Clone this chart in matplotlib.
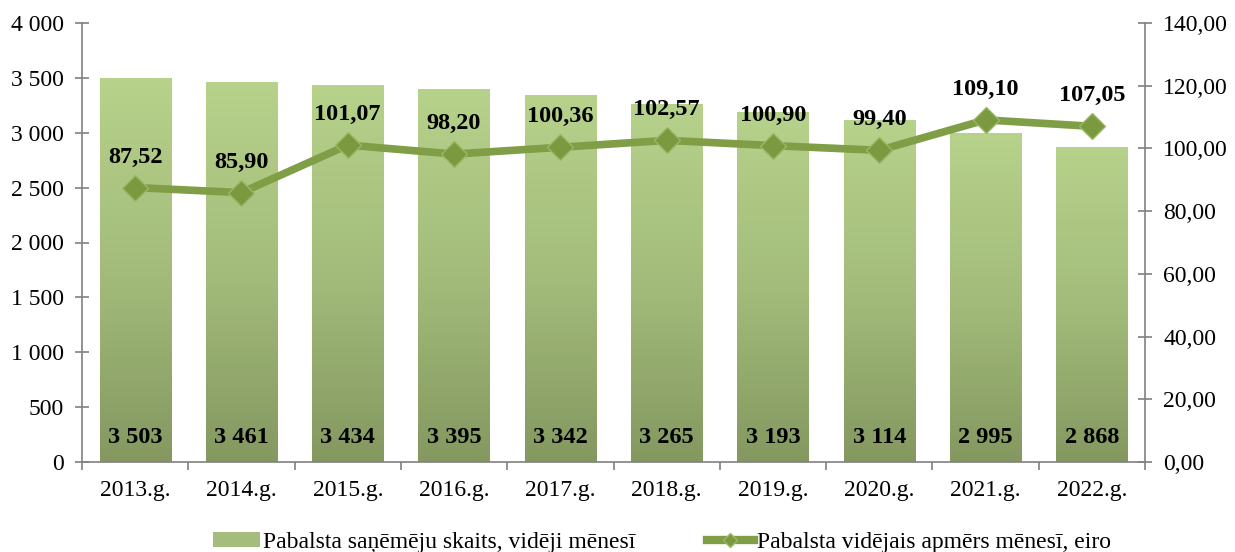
import matplotlib
matplotlib.use("Agg")
import matplotlib.pyplot as plt
import numpy as np
from matplotlib.patches import Patch
from matplotlib.lines import Line2D
from matplotlib.colors import LinearSegmentedColormap

years = ["2013.g.", "2014.g.", "2015.g.", "2016.g.", "2017.g.",
         "2018.g.", "2019.g.", "2020.g.", "2021.g.", "2022.g."]
recipients = [3503, 3461, 3434, 3395, 3342, 3265, 3193, 3114, 2995, 2868]
avg_amount = [87.52, 85.90, 101.07, 98.20, 100.36, 102.57, 100.90, 99.40, 109.10, 107.05]
recip_labels = ["3 503", "3 461", "3 434", "3 395", "3 342", "3 265", "3 193", "3 114", "2 995", "2 868"]
amount_labels = ["87,52", "85,90", "101,07", "98,20", "100,36", "102,57", "100,90", "99,40", "109,10", "107,05"]
left_ticks = [0, 500, 1000, 1500, 2000, 2500, 3000, 3500, 4000]
right_ticks = [0, 20, 40, 60, 80, 100, 120, 140]
legend_bar = "Pabalsta saņēmēju skaits, vidēji mēnesī"
legend_line = "Pabalsta vidējais apmērs mēnesī, eiro"

plt.rcParams['font.family'] = ['Liberation Serif', 'DejaVu Serif']

fig = plt.figure(figsize=(12.35, 5.52), dpi=100)
ax = fig.add_axes([82/1235, 1-462/552, (1145-82)/1235, (462-23)/552])
ax2 = ax.twinx()

x = np.arange(len(years))
width = 0.67
cmap = LinearSegmentedColormap.from_list("g", ["#849860", "#a3bc7b", "#b7d28b"])
grad = np.linspace(0, 1, 256).reshape(-1, 1)

bars = ax.bar(x, recipients, width=width, color="none", edgecolor="none", zorder=2)
for b in bars:
    x0, y0 = b.get_x(), b.get_y()
    w, h = b.get_width(), b.get_height()
    im = ax.imshow(grad, cmap=cmap, aspect="auto", origin="lower",
                   extent=[x0, x0 + w, y0, y0 + h], zorder=2)
    im.set_clip_path(b)

for xi, lab in zip(x, recip_labels):
    ax.text(xi, 225, lab, ha="center", va="center", fontsize=17.5, fontweight="bold", zorder=4)

ax.set_xlim(-0.5, len(years) - 0.5)
ax.set_ylim(0, 4000)
ax.set_yticks(left_ticks)
ax.set_yticklabels([f"{v:,}".replace(",", " ") for v in left_ticks], fontsize=17)
ax.set_xticks(x)
ax.set_xticklabels(years, fontsize=17)
ax.set_xticks(np.arange(-0.5, len(years) + 0.5, 1), minor=True)
ax.tick_params(axis="x", which="major", length=0, pad=13)
ax.tick_params(axis="x", which="minor", length=6, width=1.2, color="#808080", direction="out")
ax.tick_params(axis="y", length=10, width=1.2, color="#808080", direction="inout", pad=8)

ax2.plot(x, avg_amount, color="#7f9e46", lw=5.5, marker="D", markersize=13,
         markerfacecolor="#7b9a3f", markeredgecolor="#9ab865", markeredgewidth=1.0, zorder=5)
for xi, v, lab in zip(x, avg_amount, amount_labels):
    ax2.annotate(lab, (xi, v), xytext=(0, 22), textcoords="offset points",
                 ha="center", va="center", fontsize=17.5, fontweight="bold")
ax2.set_ylim(0, 140)
ax2.set_yticks(right_ticks)
ax2.set_yticklabels([f"{v:.2f}".replace(".", ",") for v in right_ticks], fontsize=17)
ax2.tick_params(axis="y", length=10, width=1.2, color="#808080", direction="inout", pad=8)

for a in (ax, ax2):
    a.spines["top"].set_visible(False)
    for s in ("left", "right", "bottom"):
        a.spines[s].set_color("#808080")
        a.spines[s].set_linewidth(1.2)
ax2.spines["left"].set_visible(False)
ax2.spines["bottom"].set_visible(False)
ax.spines["right"].set_visible(False)

handles = [Patch(facecolor="#a4bd7c", edgecolor="none"),
           Line2D([0], [0], color="#7f9e46", lw=6, marker="D", markersize=7,
                  markerfacecolor="#7b9a3f", markeredgecolor="#9ab865")]
fig.legend(handles, [legend_bar, legend_line], loc="lower center", ncol=2,
           bbox_to_anchor=(0.536, -0.04), frameon=False, fontsize=17,
           handlelength=2.0, handleheight=0.6, columnspacing=3.0, handletextpad=0.15)

fig.savefig("out.png", dpi=100)
